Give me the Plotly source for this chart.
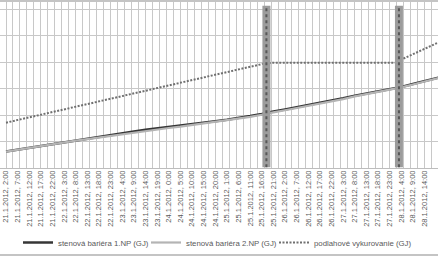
import plotly.graph_objects as go

# ---- data ----
times = [
    "2012-01-21 02:00", "2012-01-21 07:00", "2012-01-21 12:00", "2012-01-21 17:00", "2012-01-21 22:00",
    "2012-01-22 03:00", "2012-01-22 08:00", "2012-01-22 13:00", "2012-01-22 18:00", "2012-01-22 23:00",
    "2012-01-23 04:00", "2012-01-23 09:00", "2012-01-23 14:00", "2012-01-23 19:00",
    "2012-01-24 00:00", "2012-01-24 05:00", "2012-01-24 10:00", "2012-01-24 15:00", "2012-01-24 20:00",
    "2012-01-25 01:00", "2012-01-25 06:00", "2012-01-25 11:00", "2012-01-25 16:00", "2012-01-25 18:00",
    "2012-01-25 21:00",
    "2012-01-26 02:00", "2012-01-26 07:00", "2012-01-26 12:00", "2012-01-26 17:00", "2012-01-26 22:00",
    "2012-01-27 03:00", "2012-01-27 08:00", "2012-01-27 13:00", "2012-01-27 18:00", "2012-01-27 23:00",
    "2012-01-28 03:00", "2012-01-28 04:00", "2012-01-28 09:00", "2012-01-28 14:00", "2012-01-28 20:00",
]

stena_1np = [
    0.62, 0.69, 0.76, 0.84, 0.91, 0.98, 1.05, 1.11, 1.18, 1.25,
    1.31, 1.38, 1.44, 1.49, 1.54, 1.59, 1.65, 1.71, 1.76, 1.82,
    1.88, 1.96, 2.04, 2.08, 2.13, 2.21, 2.29, 2.38, 2.46, 2.55,
    2.63, 2.73, 2.81, 2.89, 2.97, 3.04, 3.06, 3.17, 3.28, 3.41,
]

stena_2np = [
    0.62, 0.69, 0.76, 0.84, 0.91, 0.97, 1.03, 1.09, 1.15, 1.22,
    1.28, 1.35, 1.41, 1.46, 1.51, 1.56, 1.62, 1.68, 1.73, 1.79,
    1.85, 1.93, 2.01, 2.05, 2.10, 2.18, 2.26, 2.35, 2.43, 2.52,
    2.60, 2.70, 2.78, 2.86, 2.95, 3.02, 3.04, 3.15, 3.26, 3.40,
]

podlahove = [
    1.71, 1.81, 1.91, 2.01, 2.11, 2.21, 2.31, 2.41, 2.51, 2.61,
    2.71, 2.81, 2.91, 3.01, 3.11, 3.21, 3.31, 3.41, 3.51, 3.61,
    3.71, 3.81, 3.91, 3.96, 3.97, 3.97, 3.97, 3.97, 3.97, 3.97,
    3.97, 3.97, 3.97, 3.97, 3.97, 3.97, 4.09, 4.29, 4.50, 4.74,
]

series_names = ["stenová bariéra 1.NP (GJ)", "stenová bariéra 2.NP (GJ)", "podlahové vykurovanie (GJ)"]

tick_times = [
    "2012-01-21 02:00", "2012-01-21 07:00", "2012-01-21 12:00", "2012-01-21 17:00", "2012-01-21 22:00",
    "2012-01-22 03:00", "2012-01-22 08:00", "2012-01-22 13:00", "2012-01-22 18:00", "2012-01-22 23:00",
    "2012-01-23 04:00", "2012-01-23 09:00", "2012-01-23 14:00", "2012-01-23 19:00",
    "2012-01-24 00:00", "2012-01-24 05:00", "2012-01-24 10:00", "2012-01-24 15:00", "2012-01-24 20:00",
    "2012-01-25 01:00", "2012-01-25 06:00", "2012-01-25 11:00", "2012-01-25 16:00", "2012-01-25 21:00",
    "2012-01-26 02:00", "2012-01-26 07:00", "2012-01-26 12:00", "2012-01-26 17:00", "2012-01-26 22:00",
    "2012-01-27 03:00", "2012-01-27 08:00", "2012-01-27 13:00", "2012-01-27 18:00", "2012-01-27 23:00",
    "2012-01-28 04:00", "2012-01-28 09:00", "2012-01-28 14:00",
]
tick_labels = [
    "21.1.2012, 2:00", "21.1.2012, 7:00", "21.1.2012, 12:00", "21.1.2012, 17:00", "21.1.2012, 22:00",
    "22.1.2012, 3:00", "22.1.2012, 8:00", "22.1.2012, 13:00", "22.1.2012, 18:00", "22.1.2012, 23:00",
    "23.1.2012, 4:00", "23.1.2012, 9:00", "23.1.2012, 14:00", "23.1.2012, 19:00",
    "24.1.2012, 0:00", "24.1.2012, 5:00", "24.1.2012, 10:00", "24.1.2012, 15:00", "24.1.2012, 20:00",
    "25.1.2012, 1:00", "25.1.2012, 6:00", "25.1.2012, 11:00", "25.1.2012, 16:00", "25.1.2012, 21:00",
    "26.1.2012, 2:00", "26.1.2012, 7:00", "26.1.2012, 12:00", "26.1.2012, 17:00", "26.1.2012, 22:00",
    "27.1.2012, 3:00", "27.1.2012, 8:00", "27.1.2012, 13:00", "27.1.2012, 18:00", "27.1.2012, 23:00",
    "28.1.2012, 4:00", "28.1.2012, 9:00", "28.1.2012, 14:00",
]

event_times = ["2012-01-25 18:00", "2012-01-28 03:00"]

x_range = ["2012-01-20 23:25", "2012-01-28 19:48"]
y_range = [0, 6.264]

# ---- figure ----
FONT = "Liberation Sans, Arial, sans-serif"
fig = go.Figure()

fig.add_trace(go.Scatter(
    x=times, y=stena_1np, mode="lines", name=series_names[0],
    line=dict(color="#363636", width=2.5), legend="legend",
))
fig.add_trace(go.Scatter(
    x=times, y=stena_2np, mode="lines", name=series_names[1],
    line=dict(color="#b4b4b4", width=2.2), legend="legend2",
))
fig.add_trace(go.Scatter(
    x=times, y=podlahove, mode="lines", name=series_names[2],
    line=dict(color="#707070", width=2, dash="2px,1.5px"), legend="legend3",
))
# empty helper trace so the label axis (x2) is drawn
fig.add_trace(go.Scatter(
    x=tick_times, y=[None] * len(tick_times), xaxis="x2", yaxis="y",
    mode="lines", showlegend=False, hoverinfo="skip",
))

shapes = []
for t in event_times:
    shapes.append(dict(type="line", xref="x", yref="y", x0=t, x1=t, y0=0.03, y1=6.12,
                       line=dict(color="#9c9c9c", width=8)))
    shapes.append(dict(type="line", xref="x", yref="y", x0=t, x1=t, y0=0.03, y1=6.12,
                       line=dict(color="#575757", width=2, dash="3px,3px")))
# chart-area border lines (top and bottom)
shapes.append(dict(type="line", xref="paper", yref="paper", x0=0, x1=1, y0=1.006, y1=1.006,
                   line=dict(color="#c4c4c4", width=2)))
shapes.append(dict(type="line", xref="paper", yref="paper", x0=0, x1=1, y0=-0.524, y1=-0.524,
                   line=dict(color="#c4c4c4", width=2)))

legend_common = dict(orientation="h", yanchor="middle", y=-0.452, xanchor="left",
                     font=dict(family=FONT, size=7.8, color="#595959"),
                     bgcolor="rgba(0,0,0,0)", borderwidth=0)

fig.update_layout(
    width=438, height=257,
    margin=dict(l=0, r=0, t=2, b=89),
    paper_bgcolor="white", plot_bgcolor="white",
    font=dict(family=FONT, size=7.5, color="#595959"),
    shapes=shapes,
    showlegend=True,
    legend=dict(x=18 / 438, **legend_common),
    legend2=dict(x=146 / 438, **legend_common),
    legend3=dict(x=274 / 438, **legend_common),
    xaxis=dict(
        type="date", range=x_range, automargin=False,
        showticklabels=False, ticks="",
        showgrid=True, gridcolor="#c8c8c8", gridwidth=1,
        dtick=3 * 3600 * 1000, tick0="2012-01-21 02:00",
        showline=True, linecolor="#bdbdbd", linewidth=1,
        zeroline=False,
    ),
    xaxis2=dict(
        type="date", range=x_range, overlaying="x", anchor="y", side="bottom",
        automargin=False, showgrid=False, showline=False, zeroline=False,
        tickmode="array", tickvals=tick_times, ticktext=tick_labels,
        tickangle=-90, ticks="",
        tickfont=dict(family=FONT, size=7.5, color="#595959"),
    ),
    yaxis=dict(
        range=y_range, automargin=False, showticklabels=False, ticks="",
        showgrid=True, gridcolor="#c8c8c8", gridwidth=1, dtick=1, tick0=0,
        zeroline=False, showline=False,
    ),
)

fig.write_html("out.html")
